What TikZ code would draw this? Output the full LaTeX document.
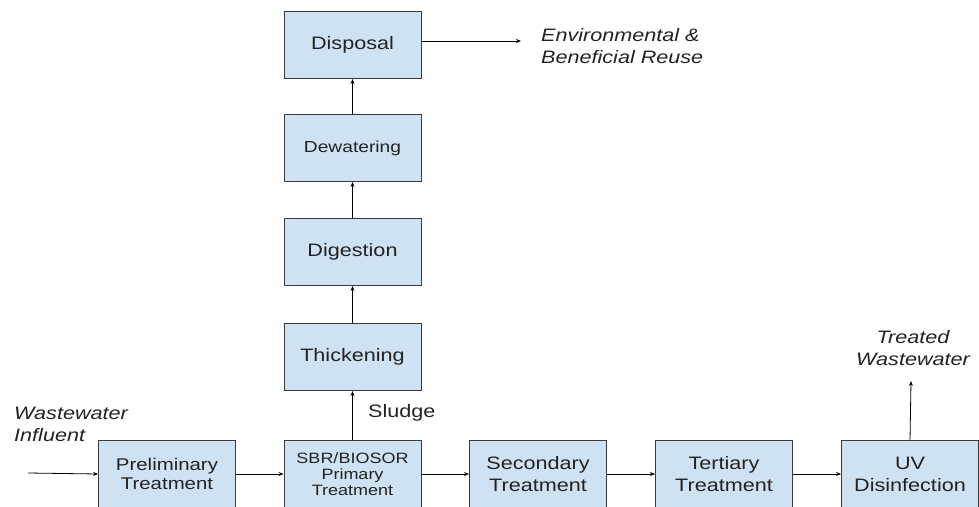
\documentclass[tikz,border=0pt]{standalone}
\usepackage{fontspec}
\setmainfont{Liberation Sans}[FakeStretch=1.2]
\usetikzlibrary{arrows.meta}
\definecolor{boxfill}{HTML}{CFE2F3}
\definecolor{boxline}{HTML}{3A3A3A}
\definecolor{txt}{HTML}{222222}
\begin{document}
\begin{tikzpicture}[x=1pt,y=-1pt,
  procbox/.style={draw=boxline,fill=boxfill,line width=0.9pt,minimum width=137pt,minimum height=67pt,inner sep=0pt,align=center,text=txt,font=\fontsize{18}{22}\selectfont},
  flow/.style={draw=black,line width=0.8pt,-{Stealth[length=5pt,width=4pt]}},
  lbl/.style={text=txt,font=\fontsize{18}{22}\selectfont\itshape,inner sep=0pt}]
\useasboundingbox (0,0) rectangle (979,506);
\clip (0,0) rectangle (979,506);
% bottom row
\node[procbox,font=\fontsize{17}{19}\selectfont] (prelim) at (167,474) {Preliminary\\Treatment};
\node[procbox,font=\fontsize{15}{16}\selectfont] (sbr) at (352.5,474) {SBR/BIOSOR\\Primary\\Treatment};
\node[procbox] (sec) at (538,474) {Secondary\\Treatment};
\node[procbox] (ter) at (724,474) {Tertiary\\Treatment};
\node[procbox] (uv) at (910,474) {UV\\Disinfection};
% vertical column
\node[procbox] (thick) at (352.5,357) {Thickening};
\node[procbox] (dig) at (352.5,252) {Digestion};
\node[procbox,font=\fontsize{16}{20}\selectfont] (dew) at (352.5,148) {Dewatering};
\node[procbox] (disp) at (352.5,45) {Disposal};
% free ends
\coordinate (inflow) at (28,473);
\coordinate (outflow) at (911,381);
\coordinate (reuse) at (521,41);
% labels
\node[lbl,anchor=west,align=left] (infl) at (14,424) {Wastewater\\Influent};
\node[lbl,anchor=west,font=\fontsize{18}{22}\selectfont] (sludge) at (368,413) {Sludge};
\node[lbl,align=center] (treated) at (913,348) {Treated\\Wastewater};
\node[lbl,anchor=west,align=left] (env) at (541,46) {Environmental \&\\Beneficial Reuse};
% connectors
\draw[flow] (inflow) -- (prelim.west);
\draw[flow] (prelim) -- (sbr);
\draw[flow] (sbr) -- (sec);
\draw[flow] (sec) -- (ter);
\draw[flow] (ter) -- (uv);
\draw[flow] (sbr) -- (thick);
\draw[flow] (thick) -- (dig);
\draw[flow] (dig) -- (dew);
\draw[flow] (dew) -- (disp);
\draw[flow] (uv.north) -- (outflow);
\draw[flow] ([yshift=4pt]disp.east) -- (reuse);
\end{tikzpicture}
\end{document}
